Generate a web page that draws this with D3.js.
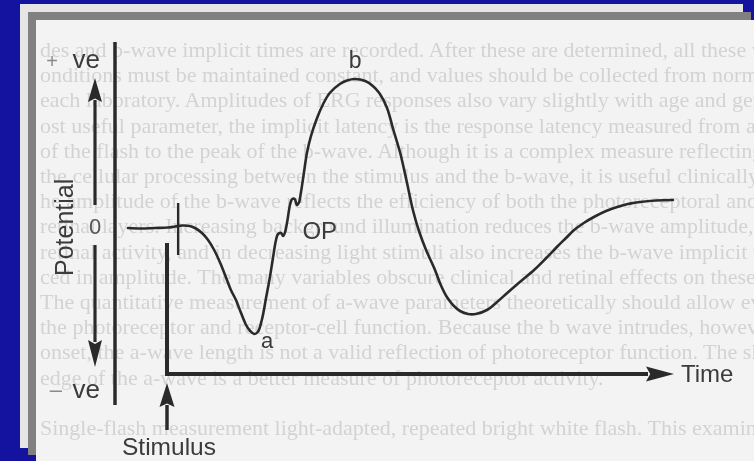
<!DOCTYPE html>
<html>
<head>
<meta charset="utf-8">
<script src="https://cdn.jsdelivr.net/npm/d3@7"></script>
<style>
  html, body { margin: 0; padding: 0; background: #13139f; }
  svg { display: block; }
</style>
</head>
<body>
<svg id="chart" width="754" height="461"></svg>
<script>
// Electroretinogram (ERG) response to a single flash.
// Time is in arbitrary units after the flash; potential is relative to the resting baseline.
const timeUnits = [
  -7.7, -5.3, -2.4, 0.2, 1.6, 3.0, 4.5, 5.7, 6.9, 8.1, 9.3, 10.5, 11.6, 12.6, 13.6, 14.6,
  15.6, 16.4, 17.2, 17.9, 18.7, 19.5, 20.3, 20.9, 21.5, 21.9, 22.5, 22.9, 23.3, 23.7, 24.3,
  24.7, 25.2, 25.6, 26.0, 26.4, 27.0, 27.6, 28.4, 29.6, 30.8, 32.1, 34.1, 35.5, 37.1, 39.1,
  40.6, 42.0, 43.4, 44.6, 46.0, 47.3, 48.5, 49.7, 51.1, 52.7, 54.0, 55.2, 56.6, 57.8, 59.4,
  60.9, 63.1, 65.1, 67.1, 69.6, 72.4, 74.8, 76.9, 78.7, 80.3, 82.2, 84.2, 86.6, 88.8, 90.9,
  93.3, 96.4, 99.8
];
const potential = [
  0, -0.5, 0, 0.5, 1.5, 2.5, 2, -0.5, -5, -12, -22, -35, -49, -62, -72, -85,
  -97, -103, -106, -104, -92, -71, -49, -30, -12, -6, -5, -8, -4, 6, 24,
  29, 29, 23, 25, 35, 55, 75, 92, 110, 124, 135, 144, 147.5, 149, 147,
  142, 134, 120, 99, 75, 46, 18, -3, -22, -40, -57, -69, -78, -83, -86,
  -86, -82, -74, -65, -54, -42, -30, -19, -10, -2, 5, 11, 17, 21, 24,
  26, 27.5, 28
];

// Flash artefact on the trace: its time and the potential range it spans
const artifactTime = 2.2;
const artifactRange = [25, -27];

// Named components of the response: label, time and potential of the feature
const componentLabels = ["a", "OP", "b"];
const componentTimes = [17.2, 23.3, 37.1];
const componentValues = [-106, -4, 149];

// Axis ranges of the inner time/stimulus axes
const timeDomain = [0, 100];
const potentialDomain = [-146, 150];
const stimulusAxisTop = -15;

// Faint text of the book page behind the figure
const pageTextLines = [
  "des and b-wave implicit times are recorded. After these are determined, all these variables",
  "onditions must be maintained constant, and values should be collected from normal subjects",
  "each laboratory. Amplitudes of ERG responses also vary slightly with age and gender of the",
  "ost useful parameter, the implicit latency is the response latency measured from a stimulus",
  "of the flash to the peak of the b-wave. Although it is a complex measure reflecting all the",
  "the cellular processing between the stimulus and the b-wave, it is useful clinically. The",
  "he amplitude of the b-wave reflects the efficiency of both the photoreceptoral and post",
  "retinal layers. Increasing background illumination reduces the b-wave amplitude, and",
  "retinal activity, and in decreasing light stimuli also increases the b-wave implicit time",
  "ced in amplitude. The many variables obscure clinical and retinal effects on these values",
  "The quantitative measurement of a-wave parameters theoretically should allow evaluation of",
  "the photoreceptor and receptor-cell function. Because the b wave intrudes, however, the b",
  "onset, the a-wave length is not a valid reflection of photoreceptor function. The slope of",
  "edge of the a-wave is a better measure of photoreceptor activity.",
  "",
  "Single-flash measurement light-adapted, repeated bright white flash. This examines mostly"
];

const W = 754, H = 461;
const ink = "#2c2c2c";
const labelInk = "#3a3a3a";
const svg = d3.select("#chart");

// ---- slide frame: stacked grey borders and the scanned page ----
svg.append("rect").attr("x", 0).attr("y", 0).attr("width", W).attr("height", H).attr("fill", "#13139f");
svg.append("rect").attr("x", 20).attr("y", 4).attr("width", 723).attr("height", 444).attr("fill", "#e5e5e5");
svg.append("rect").attr("x", 28).attr("y", 12).attr("width", 723).attr("height", 443).attr("fill", "#808080");
svg.append("rect").attr("x", 36).attr("y", 20).attr("width", W - 36).attr("height", H - 20).attr("fill", "#f3f3f3");

const defs = svg.append("defs");
defs.append("clipPath").attr("id", "pageClip")
  .append("rect").attr("x", 36).attr("y", 20).attr("width", W - 36).attr("height", H - 20);
defs.append("filter").attr("id", "soft")
  .append("feGaussianBlur").attr("stdDeviation", 0.6);
defs.append("filter").attr("id", "inkSoft")
  .append("feGaussianBlur").attr("stdDeviation", 0.35);

// ---- faint page text ----
svg.append("g")
  .attr("clip-path", "url(#pageClip)")
  .attr("filter", "url(#soft)")
  .selectAll("text")
  .data(pageTextLines)
  .join("text")
  .attr("x", 40)
  .attr("y", (d, i) => 57 + i * 25.2)
  .attr("font-family", "Liberation Serif, serif")
  .attr("font-size", 22)
  .attr("fill", "#d3d3d3")
  .text(d => d);

// ---- scales ----
const x = d3.scaleLinear().domain(timeDomain).range([167, 674]);
const y = d3.scaleLinear().domain(potentialDomain).range([374, 78]);

const fig = svg.append("g").attr("filter", "url(#inkSoft)");

// arrow helper: shaft plus filled head pointing to (x2, y2)
function arrow(g, x1, y1, x2, y2, width, headLen, headHalf) {
  const ang = Math.atan2(y2 - y1, x2 - x1);
  const bx = x2 - headLen * Math.cos(ang), by = y2 - headLen * Math.sin(ang);
  g.append("line")
    .attr("x1", x1).attr("y1", y1).attr("x2", bx + 2 * Math.cos(ang)).attr("y2", by + 2 * Math.sin(ang))
    .attr("stroke", ink).attr("stroke-width", width);
  const px = -Math.sin(ang) * headHalf, py = Math.cos(ang) * headHalf;
  const notch = headLen * 0.15;
  const nx = bx + notch * Math.cos(ang), ny = by + notch * Math.sin(ang);
  g.append("path")
    .attr("d", `M${x2},${y2}L${bx + px},${by + py}L${nx},${ny}L${bx - px},${by - py}Z`)
    .attr("fill", ink);
}

// ---- potential indicator on the far left ----
const potX = 115, arrowX = 95;
fig.append("line")
  .attr("x1", potX).attr("x2", potX).attr("y1", 42).attr("y2", 405)
  .attr("stroke", ink).attr("stroke-width", 3.5);
arrow(fig, arrowX, 205, arrowX, 78, 3.2, 24, 7);
arrow(fig, arrowX, 245, arrowX, 367, 3.2, 27, 7);

fig.append("text").attr("x", 58).attr("y", 68).attr("text-anchor", "end")
  .attr("font-family", "Liberation Sans, Arial, sans-serif").attr("font-size", 20)
  .attr("fill", "#8a8a8a").text("+");
fig.append("text").attr("x", 100).attr("y", 68).attr("text-anchor", "end")
  .attr("font-family", "Liberation Sans, Arial, sans-serif").attr("font-size", 26)
  .attr("fill", labelInk).text("ve");
fig.append("text").attr("x", 62).attr("y", 397).attr("text-anchor", "end")
  .attr("font-family", "Liberation Sans, Arial, sans-serif").attr("font-size", 22)
  .attr("fill", "#8a8a8a").text("\u2013");
fig.append("text").attr("x", 100).attr("y", 398).attr("text-anchor", "end")
  .attr("font-family", "Liberation Sans, Arial, sans-serif").attr("font-size", 26)
  .attr("fill", labelInk).text("ve");
fig.append("text").attr("x", 95).attr("y", y(0) + 6).attr("text-anchor", "middle")
  .attr("font-family", "Liberation Sans, Arial, sans-serif").attr("font-size", 22)
  .attr("fill", "#555").text("0");
fig.append("text")
  .attr("transform", `translate(73,276) rotate(-90)`)
  .attr("font-family", "Liberation Sans, Arial, sans-serif").attr("font-size", 25)
  .attr("fill", labelInk).text("Potential");

// ---- inner axes: stimulus line and time arrow ----
fig.append("line")
  .attr("x1", x(0)).attr("x2", x(0))
  .attr("y1", y(stimulusAxisTop)).attr("y2", y(potentialDomain[0]) + 2)
  .attr("stroke", ink).attr("stroke-width", 4);
arrow(fig, x(0) - 2, y(potentialDomain[0]), x(timeDomain[1]), y(potentialDomain[0]), 4, 28, 7.5);
fig.append("text").attr("x", x(timeDomain[1]) + 7).attr("y", y(potentialDomain[0]) + 8)
  .attr("font-family", "Liberation Sans, Arial, sans-serif").attr("font-size", 24)
  .attr("fill", labelInk).text("Time");

// stimulus marker below the time axis
arrow(fig, x(0), 430, x(0), 383, 3.5, 24, 7.5);
fig.append("text").attr("x", 122).attr("y", 455)
  .attr("font-family", "Liberation Sans, Arial, sans-serif").attr("font-size", 24.5)
  .attr("fill", labelInk).text("Stimulus");

// ---- ERG trace ----
const trace = timeUnits.map((t, i) => ({ t, v: potential[i] }));
const line = d3.line()
  .x(d => x(d.t))
  .y(d => y(d.v))
  .curve(d3.curveCatmullRom.alpha(0.5));
fig.append("path")
  .datum(trace)
  .attr("d", line)
  .attr("fill", "none")
  .attr("stroke", ink)
  .attr("stroke-width", 2.6)
  .attr("stroke-linejoin", "round")
  .attr("stroke-linecap", "round");

// flash artefact
fig.append("line")
  .attr("x1", x(artifactTime)).attr("x2", x(artifactTime))
  .attr("y1", y(artifactRange[0])).attr("y2", y(artifactRange[1]))
  .attr("stroke", ink).attr("stroke-width", 2.4);

// ---- component labels ----
const labelOffsets = { a: [13, 14], OP: [52, 7], b: [0, -11] };
const labelAnchor = { a: "middle", OP: "end", b: "middle" };
const labelSize = { a: 22, OP: 24, b: 23 };
fig.selectAll("text.component")
  .data(componentLabels)
  .join("text")
  .attr("class", "component")
  .attr("x", (d, i) => x(componentTimes[i]) + labelOffsets[d][0])
  .attr("y", (d, i) => y(componentValues[i]) + labelOffsets[d][1])
  .attr("text-anchor", d => labelAnchor[d])
  .attr("font-family", "Liberation Sans, Arial, sans-serif")
  .attr("font-size", d => labelSize[d])
  .attr("fill", labelInk)
  .text(d => d);
</script>
</body>
</html>
